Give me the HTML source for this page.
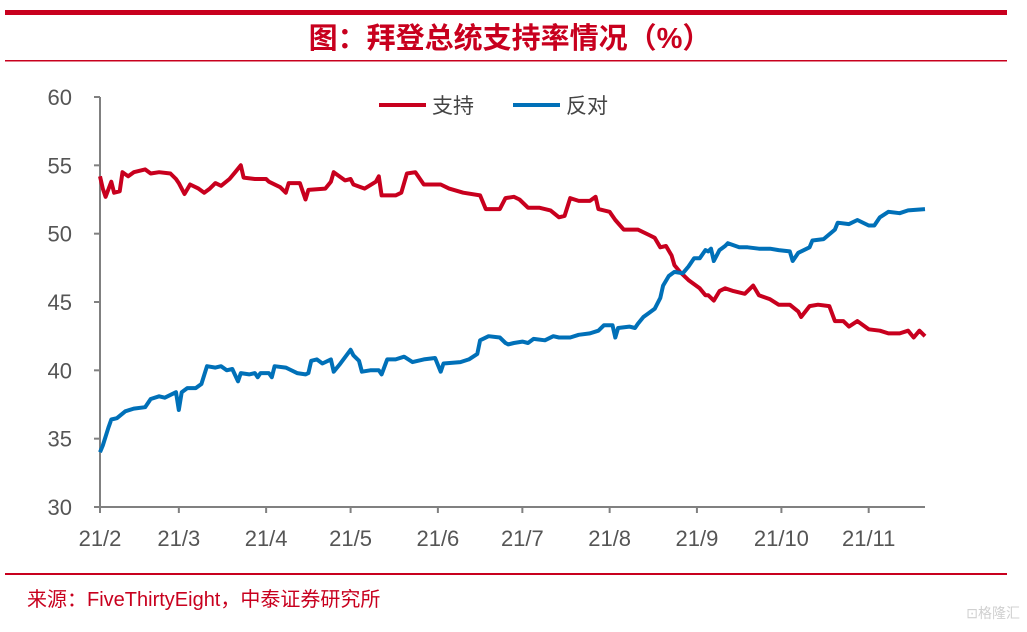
<!DOCTYPE html>
<html><head><meta charset="utf-8">
<style>
body{margin:0;background:#fff;width:1027px;height:627px;overflow:hidden;font-family:"Liberation Sans","Noto Sans CJK SC",sans-serif;}
svg text{font-family:"Liberation Sans","Noto Sans CJK SC",sans-serif;}
</style></head>
<body>
<svg id="chart" width="1027" height="627">
  <rect x="5" y="10" width="1002" height="5" fill="#c8001e"/>
  <text x="510" y="48" text-anchor="middle" font-size="29" font-weight="bold" fill="#c8001e" font-family="'Noto Serif CJK SC',serif">图：拜登总统支持率情况（%）</text>
  <rect x="5" y="60" width="1002" height="1.5" fill="#c8001e"/>
  <g>
    <line x1="379" y1="105" x2="426" y2="105" stroke="#c8001e" stroke-width="4"/>
    <text x="432" y="113" font-size="21" fill="#444">支持</text>
    <line x1="513" y1="105" x2="560" y2="105" stroke="#0070b8" stroke-width="4"/>
    <text x="566" y="113" font-size="21" fill="#444">反对</text>
  </g>
  <g id="axes"></g>
  <g id="series"></g>
  <rect x="5" y="573" width="1002" height="2" fill="#c8001e"/>
  <text x="27" y="606" font-size="20" fill="#c8001e">来源：FiveThirtyEight，中泰证券研究所</text>
  <text x="1020" y="618" text-anchor="end" font-size="14" fill="#d0d0d0">⊡格隆汇</text>
</svg>
<script>
const yTicks=[30,35,40,45,50,55,60];
const monthLabels=["21/2","21/3","21/4","21/5","21/6","21/7","21/8","21/9","21/10","21/11"];
const monthDays=[0,28,59,89,120,150,181,212,242,273];
const approveDays=[0,1,2,4,5,7,8,10,12,16,18,21,25,27,28,30,32,35,37,39,41,43,46,48,50,51,55,59,60,64,66,67,71,73,74,80,82,83,87,89,90,94,98,99,100,105,107,109,112,115,121,124,129,135,137,142,144,147,149,152,156,160,163,165,167,170,174,176,177,181,183,186,191,195,197,199,201,203,204,206,209,213,215,216,218,220,222,225,229,232,234,238,241,245,248,249,252,255,259,261,264,266,269,273,277,280,284,287,289,291,293];
const approveVals=[54.2,53.3,52.7,53.8,53.0,53.1,54.5,54.2,54.5,54.7,54.4,54.5,54.4,54.0,53.7,52.9,53.6,53.3,53.0,53.3,53.7,53.5,54.0,54.5,55.0,54.1,54.0,54.0,53.8,53.4,53.0,53.7,53.7,52.5,53.2,53.3,53.8,54.5,53.9,54.0,53.6,53.3,53.8,54.2,52.8,52.8,53.0,54.4,54.5,53.6,53.6,53.3,53.0,52.8,51.8,51.8,52.6,52.7,52.5,51.9,51.9,51.7,51.2,51.3,52.6,52.4,52.4,52.7,51.8,51.6,51.0,50.3,50.3,49.9,49.7,49.0,49.1,48.4,47.7,47.2,46.6,46.0,45.5,45.5,45.1,45.8,46.0,45.8,45.6,46.2,45.5,45.2,44.8,44.8,44.3,43.9,44.7,44.8,44.7,43.6,43.6,43.2,43.6,43.0,42.9,42.7,42.7,42.9,42.4,42.9,42.5];
const disapproveDays=[0,1,3,4,6,9,12,16,18,21,23,27,28,29,31,34,36,38,41,43,45,47,49,50,53,55,56,57,60,61,62,66,67,70,73,74,75,77,79,82,83,85,89,90,92,93,96,99,100,102,105,108,111,115,119,121,122,128,131,134,135,138,142,144,145,147,150,152,154,158,161,163,167,170,174,177,179,182,183,184,188,190,191,193,195,197,199,200,202,204,207,209,211,213,215,216,217,218,220,222,223,227,230,234,238,241,245,246,248,252,253,257,261,262,266,269,273,275,277,280,284,287,293];
const disapproveVals=[34.0,34.5,35.8,36.4,36.5,37.0,37.2,37.3,37.9,38.1,38.0,38.4,37.1,38.4,38.7,38.7,39.0,40.3,40.2,40.3,40.0,40.1,39.2,39.8,39.7,39.8,39.5,39.8,39.8,39.5,40.3,40.2,40.1,39.8,39.7,39.8,40.7,40.8,40.5,40.8,39.9,40.4,41.5,41.1,40.7,39.9,40.0,40.0,39.7,40.8,40.8,41.0,40.6,40.8,40.9,39.9,40.5,40.6,40.8,41.2,42.2,42.5,42.4,42.0,41.9,42.0,42.1,42.0,42.3,42.2,42.5,42.4,42.4,42.6,42.7,42.9,43.3,43.3,42.4,43.1,43.2,43.1,43.4,43.9,44.2,44.5,45.3,46.2,46.9,47.2,47.1,47.6,48.2,48.2,48.8,48.7,48.9,48.0,48.8,49.1,49.3,49.0,49.0,48.9,48.9,48.8,48.7,48.0,48.6,49.0,49.5,49.6,50.3,50.8,50.7,51.0,50.6,50.6,51.2,51.6,51.5,51.7,51.8];

const NS="http://www.w3.org/2000/svg";
const X0=100,X1=925,DMAX=293,Y0=507,Y1=97;
function xs(d){return X0+d*(X1-X0)/DMAX;}
function ys(v){return Y0-(v-30)*(Y0-Y1)/30;}
function mk(tag,attrs,parent){const e=document.createElementNS(NS,tag);for(const k in attrs)e.setAttribute(k,attrs[k]);parent.appendChild(e);return e;}
const axes=document.getElementById('axes');
let yAxis=mk('line',{x1:X0,y1:Y1,x2:X0,y2:Y0,stroke:'#808080','stroke-width':2},axes);


let xAxis=mk('line',{x1:X0-6,y1:Y0,x2:X1,y2:Y0,stroke:'#808080','stroke-width':2},axes);


yTicks.forEach(v=>{
  const t=mk('line',{x1:X0-6,y1:ys(v),x2:X0,y2:ys(v),stroke:'#808080','stroke-width':2},axes);
  
  
  const l=mk('text',{x:72,y:ys(v)+8,'text-anchor':'end','font-size':22,fill:'#555'},axes);
  l.textContent=v;
  
  
});
monthDays.forEach((d,i)=>{
  const t=mk('line',{x1:xs(d),y1:Y0,x2:xs(d),y2:Y0+6,stroke:'#808080','stroke-width':2},axes);
  
  
  const l=mk('text',{x:xs(d),y:546,'text-anchor':'middle','font-size':22,fill:'#555'},axes);
  l.textContent=monthLabels[i];
  
  
});
const ser=document.getElementById('series');
function line(days,vals,color,name){
  const p=days.map((d,i)=>xs(d).toFixed(1)+','+ys(vals[i]).toFixed(1)).join(' ');
  const e=mk('polyline',{points:p,fill:'none',stroke:color,'stroke-width':4,'stroke-linejoin':'round'},ser);
  
  
}
line(approveDays,approveVals,'#c8001e','approve-line');
line(disapproveDays,disapproveVals,'#0070b8','disapprove-line');
</script>
</body></html>
